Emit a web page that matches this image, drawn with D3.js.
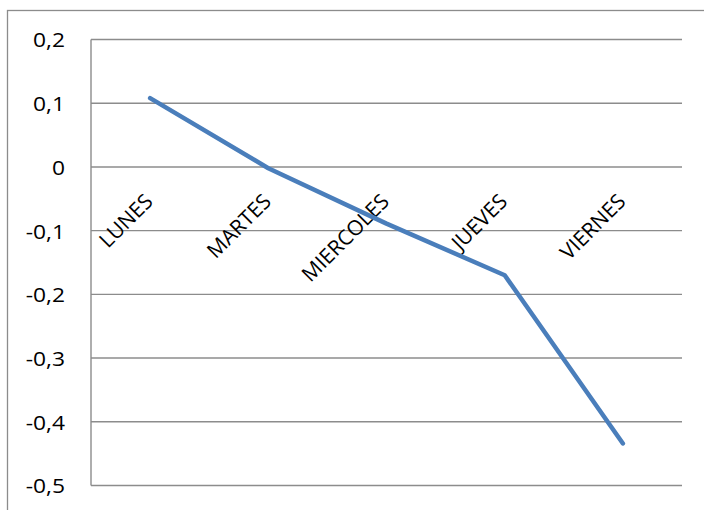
<!DOCTYPE html>
<html>
<head>
<meta charset="utf-8">
<script src="https://cdn.jsdelivr.net/npm/d3@7"></script>
<style>
  html, body { margin: 0; padding: 0; background: #fff; }
  svg { display: block; }
  text { font-family: "Open Sans", Lato, sans-serif; fill: #000; }
</style>
</head>
<body>
<svg id="chart" width="704" height="510"></svg>
<script>
// Weekday categories and the plotted series
const categories = ["LUNES", "MARTES", "MIERCOLES", "JUEVES", "VIERNES"];
const values = [0.108, -0.002, -0.089, -0.17, -0.434];
const yTicks = [0.2, 0.1, 0, -0.1, -0.2, -0.3, -0.4, -0.5];

const svg = d3.select("#chart");
const W = 704, H = 510;
const plot = { left: 91, right: 682, top: 39.5, bottom: 485.5 };

// Outer chart frame
svg.append("rect")
  .attr("x", 7.5).attr("y", 10.5)
  .attr("width", W + 10).attr("height", H + 10)
  .attr("fill", "none").attr("stroke", "#8c8c8c").attr("stroke-width", 1.3);

const x = d3.scaleBand().domain(categories).range([plot.left, plot.right]);
const y = d3.scaleLinear().domain([-0.5, 0.2]).range([plot.bottom, plot.top]);

const fmt = v => (Math.abs(v) < 1e-9 ? "0" : d3.format(".1f")(v).replace(".", ",").replace("−", "-"));

// Horizontal gridlines
svg.append("g")
  .selectAll("line").data(yTicks).join("line")
  .attr("x1", plot.left).attr("x2", plot.right)
  .attr("y1", d => y(d)).attr("y2", d => y(d))
  .attr("stroke", "#8c8c8c").attr("stroke-width", 1.4);

// Vertical value axis
svg.append("line")
  .attr("x1", plot.left).attr("x2", plot.left)
  .attr("y1", plot.top).attr("y2", plot.bottom)
  .attr("stroke", "#8c8c8c").attr("stroke-width", 1.4);

// Value axis labels
svg.append("g")
  .selectAll("text").data(yTicks).join("text")
  .attr("text-anchor", "end").attr("dominant-baseline", "central")
  .attr("font-size", 20)
  .attr("transform", d => `translate(65,${y(d)}) scale(1.14,1)`)
  .text(fmt);

// Category labels, rotated, hanging under the zero line
svg.append("g")
  .selectAll("text").data(categories).join("text")
  .attr("text-anchor", "end")
  .attr("font-size", 21)
  .attr("transform", d => `translate(${x(d) + x.bandwidth() / 2 + 4},${y(0) + 36}) rotate(-45)`)
  .text(d => d);

// Series line
const line = d3.line()
  .x((d, i) => x(categories[i]) + x.bandwidth() / 2)
  .y(d => y(d));

svg.append("path")
  .datum(values)
  .attr("d", line)
  .attr("fill", "none")
  .attr("stroke", "#4a7ebb")
  .attr("stroke-width", 4.5)
  .attr("stroke-linecap", "round")
  .attr("stroke-linejoin", "round");
</script>
</body>
</html>
